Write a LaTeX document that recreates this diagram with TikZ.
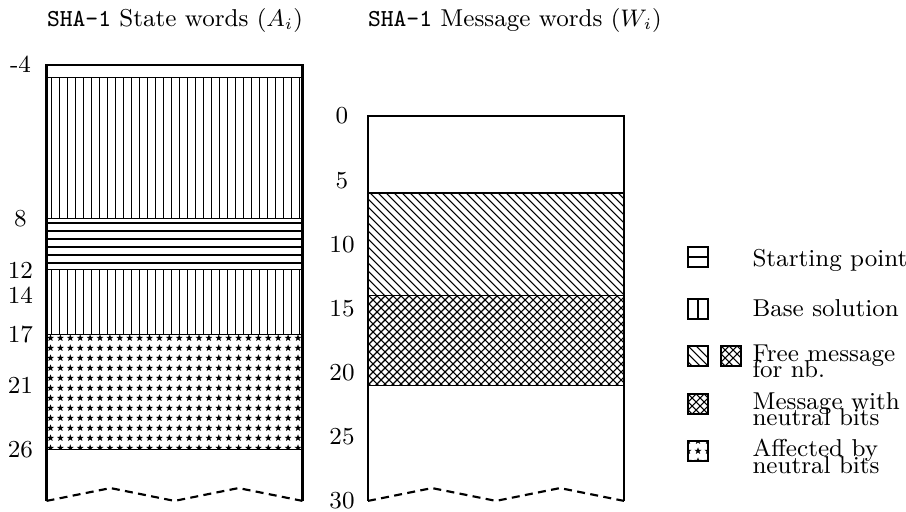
\documentclass[tikz,border=0pt]{standalone}
\pgfmathdeclarefunction{row}{1}{\pgfmathparse{116+12.83*#1}}
\begin{document}
\begin{tikzpicture}[x=0.375pt,y=-0.375pt,
  frame/.style={line width=0.8pt},
  band/.style={line width=0.4pt},
  hatch/.style={line width=0.4pt},
  zigzag/.style={line width=0.8pt,dash pattern=on 3pt off 2pt},
  txt/.style={inner sep=0pt,font=\fontsize{9.15}{11}\selectfont},
  num/.style={txt,anchor=center},
  legtext/.style={txt,anchor=base west},
  iconbox/.style={line width=0.9pt},
  smallstar/.pic={\fill (270:3.7) -- (306:1.5) -- (342:3.7) -- (18:1.5) -- (54:3.7)
      -- (90:1.5) -- (126:3.7) -- (162:1.5) -- (198:3.7) -- (234:1.5) -- cycle;}]
\useasboundingbox (0,0) rectangle (906,512);

% ---------- titles ----------
\node[legtext] (titleA) at (46.5,26.5) {\texttt{SHA-1} State words $(A_i)$};
\node[legtext] (titleW) at (367.5,26.5) {\texttt{SHA-1} Message words $(W_i)$};

% ---------- state words column ----------
\def\LL{46.5}\def\LR{302.5}
% vertical lines, rows -3..8 and 12..17
\begin{scope}
  \clip (\LL,{row(-3)}) rectangle (\LR,{row(8)});
  \foreach \k in {0,...,31} \draw[hatch] ({51.5+8*\k},{row(-3)}) -- ({51.5+8*\k},{row(8)});
\end{scope}
\begin{scope}
  \clip (\LL,{row(12)}) rectangle (\LR,{row(17)});
  \foreach \k in {0,...,31} \draw[hatch] ({51.5+8*\k},{row(12)}) -- ({51.5+8*\k},{row(17)});
\end{scope}
% horizontal lines, rows 8..12
\foreach \k in {0,...,5} \draw[hatch] (\LL,{223+8*\k}) -- (\LR,{223+8*\k});
% stars, rows 17..26
\begin{scope}
  \clip (\LL,{row(17)}) rectangle (\LR,{row(26)});
  \foreach \i in {0,...,25} \foreach \j in {0,...,11} \pic at ({50.5+9.9*\i},{338+10*\j}) {smallstar};
\end{scope}
\draw[band] (\LL,{row(-3)}) rectangle (\LR,{row(8)});
\draw[band] (\LL,{row(8)}) rectangle (\LR,{row(12)});
\draw[band] (\LL,{row(12)}) rectangle (\LR,{row(17)});
\draw[band] (\LL,{row(17)}) rectangle (\LR,{row(26)});
\draw[frame] (\LL,{row(30)}) -- (\LL,{row(-4)}) -- (\LR,{row(-4)}) -- (\LR,{row(30)});
\draw[zigzag] (\LL,{row(30)}) -- ({\LL+64},{row(29)}) -- ({\LL+128},{row(30)})
  -- ({\LL+192},{row(29)}) -- (\LR,{row(30)});

\foreach \r in {-4,8,12,14,17,21,26}
  \node[num] (sa\r) at (20.5,{row(\r)}) {\r};

% ---------- message words column ----------
\def\RL{368}\def\RR{624}
\begin{scope}
  \clip (\RL,{row(6)}) rectangle (\RR,{row(14)});
  \foreach \c in {65,73,...,441} \draw[hatch] ({\c+185},185) -- ({\c+305},305);
\end{scope}
\begin{scope}
  \clip (\RL,{row(14)}) rectangle (\RR,{row(21)});
  \foreach \c in {-31,-23,...,337} \draw[hatch] ({\c+285},285) -- ({\c+395},395);
  \foreach \d in {649,657,...,1025} \draw[hatch] ({\d-285},285) -- ({\d-395},395);
\end{scope}
\draw[band] (\RL,{row(6)}) rectangle (\RR,{row(14)});
\draw[band] (\RL,{row(14)}) rectangle (\RR,{row(21)});
\draw[frame] (\RL,{row(30)}) -- (\RL,{row(0)}) -- (\RR,{row(0)}) -- (\RR,{row(30)});
\draw[zigzag] (\RL,{row(30)}) -- ({\RL+64},{row(29)}) -- ({\RL+128},{row(30)})
  -- ({\RL+192},{row(29)}) -- (\RR,{row(30)});

\foreach \r in {0,5,...,30}
  \node[num] (mw\r) at (342,{row(\r)}) {\r};

% ---------- legend ----------
% starting point
\draw[hatch] (688,257) -- (708,257);
\draw[iconbox] (688,247) rectangle (708,267);
\node[legtext] (legA) at (752,267) {Starting point};
% base solution
\draw[hatch] (698,299) -- (698,319);
\draw[iconbox] (688,299) rectangle (708,319);
\node[legtext] (legB) at (752,317) {Base solution};
% free message
\begin{scope}
  \clip (688,346) rectangle (708,366);
  \foreach \c in {326,334,...,350} \draw[hatch] ({\c+340},340) -- ({\c+372},372);
\end{scope}
\draw[iconbox] (688,346) rectangle (708,366);
\begin{scope}
  \clip (721,346) rectangle (741,366);
  \foreach \c in {359,367,...,391} \draw[hatch] ({\c+340},340) -- ({\c+372},372);
  \foreach \d in {1051,1059,...,1091} \draw[hatch] ({\d-340},340) -- ({\d-372},372);
\end{scope}
\draw[iconbox] (721,346) rectangle (741,366);
\node[legtext] (legC1) at (752,362) {Free message};
\node[legtext] (legC2) at (752,378) {for nb.};
% message with neutral bits
\begin{scope}
  \clip (688,394) rectangle (708,414);
  \foreach \c in {278,286,...,318} \draw[hatch] ({\c+389},389) -- ({\c+419},419);
  \foreach \d in {1074,1082,...,1122} \draw[hatch] ({\d-389},389) -- ({\d-419},419);
\end{scope}
\draw[iconbox] (688,394) rectangle (708,414);
\node[legtext] (legD1) at (752,410) {Message with};
\node[legtext] (legD2) at (752,426) {neutral bits};
% affected by neutral bits
\begin{scope}
  \clip (688,441) rectangle (708,461);
  \foreach \i in {-1,0,1} \foreach \j in {-1,0,1} \pic at ({698+10*\i},{451+10*\j}) {smallstar};
\end{scope}
\draw[iconbox] (688,441) rectangle (708,461);
\node[legtext] (legE1) at (752,457) {Affected by};
\node[legtext] (legE2) at (752,473) {neutral bits};
\end{tikzpicture}
\end{document}
